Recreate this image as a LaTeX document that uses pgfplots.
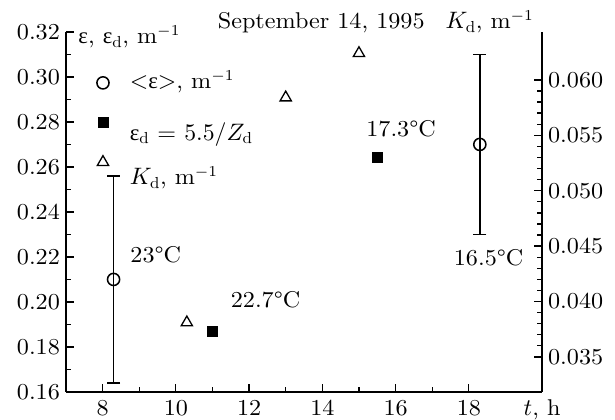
\documentclass[border=0pt]{standalone}
\usepackage{fontspec}
\usepackage{pgfplots}
\pgfplotsset{compat=1.18}
\setmainfont{lmroman10-regular}[Extension=.otf, FakeStretch=1.06,
  BoldFont=lmroman10-bold, ItalicFont=lmroman10-italic,
  BoldItalicFont=lmroman10-bolditalic]
\newfontfamily\grk{Liberation Serif}
\newcommand{\eps}{{\grk ε}}
\newcommand{\tlabel}{$t$, h}

\begin{document}
\fontsize{10.5}{12.6}\selectfont
\begin{tikzpicture}
\pgfplotsset{
  common/.style={
    scale only axis, width=219.4pt, height=165.9pt,
    xmin=7, xmax=20,
    tick align=inside,
    scaled y ticks=false,
    axis line style={line width=0.8pt, -},
    every tick/.style={black, line width=0.6pt},
    major tick length=3.6pt, minor tick length=2.3pt,
    yticklabel style={inner xsep=2.6pt},
    clip=false,
  },
  % legend symbol drawn at a given height above the text baseline
  legimg/.style={legend image code/.code={
      \path[draw=none, fill=none] (0pt,0pt) rectangle (20pt,0pt);
      \draw[##1, overlay] plot coordinates {(7.6pt,#1)};}},
}
% left axis: extinction coefficients
\begin{axis}[common,
  ymin=0.16, ymax=0.32,
  axis x line*=bottom, axis y line*=left,
  xtick={8,10,12,14,16,18}, minor x tick num=1,
  xticklabel={\pgfmathprintnumber[assume math mode=true]{\tick}},
  extra x ticks={20}, extra x tick labels={\tlabel},
  extra x tick style={major tick length=0pt},
  ytick={0.16,0.18,0.20,0.22,0.24,0.26,0.28,0.30,0.32}, minor y tick num=1,
  yticklabel={\pgfmathprintnumber[fixed, fixed zerofill, precision=2, assume math mode=true]{\tick}},
  legend style={at={(axis cs:7.56,0.3043)}, anchor=north west, draw=none, fill=none,
    inner sep=0pt, outer sep=0pt, row sep=0pt, column sep=0pt,
    nodes={inner sep=0pt, outer sep=0pt}, cells={anchor=base west}},
]
\coordinate (sw) at (rel axis cs:0,0);
\coordinate (ne) at (rel axis cs:1,1);

% mean extinction with spread
\addplot[only marks, mark=o, mark size=2.8pt, black, line width=0.7pt,
  mark options={fill=white}, legimg=2.8pt,
  error bars/.cd, y dir=both, y explicit,
  error bar style={line width=0.7pt, black},
  error mark options={rotate=90, mark size=3pt, line width=0.7pt, black}]
  table[x=t, y=e, y error=err] {
    t    e     err
    8.3  0.210 0.046
    18.3 0.270 0.040
  };
\addlegendentry{\rule{0pt}{10pt}$<$\eps$>$, m$^{-1}$}

% Secchi-disk estimate
\addplot[only marks, mark=square*, mark size=2.3pt, black, legimg=8.3pt]
  table[x=t, y=e] {
    t    e
    11.0 0.187
    15.5 0.264
  };
\addlegendentry{\rule{0pt}{22.1pt}\eps$_{\mathrm{d}}$ = $5.5/Z_{\mathrm{d}}$}

\addlegendimage{only marks, mark=triangle, mark size=3pt, black, line width=0.6pt, legimg=10.4pt}
\addlegendentry{\rule{0pt}{18.9pt}$K_{\mathrm{d}}$, m$^{-1}$}

\node[anchor=base west, inner sep=0pt] at (axis cs:7.33,0.3147) {\eps, \eps$_{\mathrm{d}}$, m$^{-1}$};
\node[anchor=base, inner sep=0pt] at (axis cs:13.97,0.3213) {September 14, 1995};
\node[anchor=base east, inner sep=0pt] at (axis cs:19.79,0.3213) {$K_{\mathrm{d}}$, m$^{-1}$};

\node[anchor=base west, inner sep=0pt] at (axis cs:8.75,0.2173) {23°C};
\node[anchor=base west, inner sep=0pt] at (axis cs:11.49,0.1973) {22.7°C};
\node[anchor=base west, inner sep=0pt] at (axis cs:15.19,0.2733) {17.3°C};
\node[anchor=base west, inner sep=0pt] at (axis cs:17.58,0.2164) {16.5°C};
\end{axis}

% right axis: diffuse attenuation coefficient
\begin{axis}[common,
  ymin=0.03184, ymax=0.06433,
  axis x line=none, axis y line*=right,
  ytick={0.035,0.040,0.045,0.050,0.055,0.060}, minor y tick num=4,
  yticklabel={\pgfmathprintnumber[fixed, fixed zerofill, precision=3, assume math mode=true]{\tick}},
]
\addplot[only marks, mark=triangle, mark size=3pt, black, line width=0.6pt]
  table[x=t, y=k] {
    t    k
    10.3 0.0381
    13.0 0.0584
    15.0 0.0624
  };
\end{axis}

\pgfresetboundingbox
\path[use as bounding box] ([xshift=-30.4pt,yshift=-12.9pt]sw) rectangle ([xshift=33.6pt,yshift=14.7pt]ne);
\end{tikzpicture}
\end{document}
